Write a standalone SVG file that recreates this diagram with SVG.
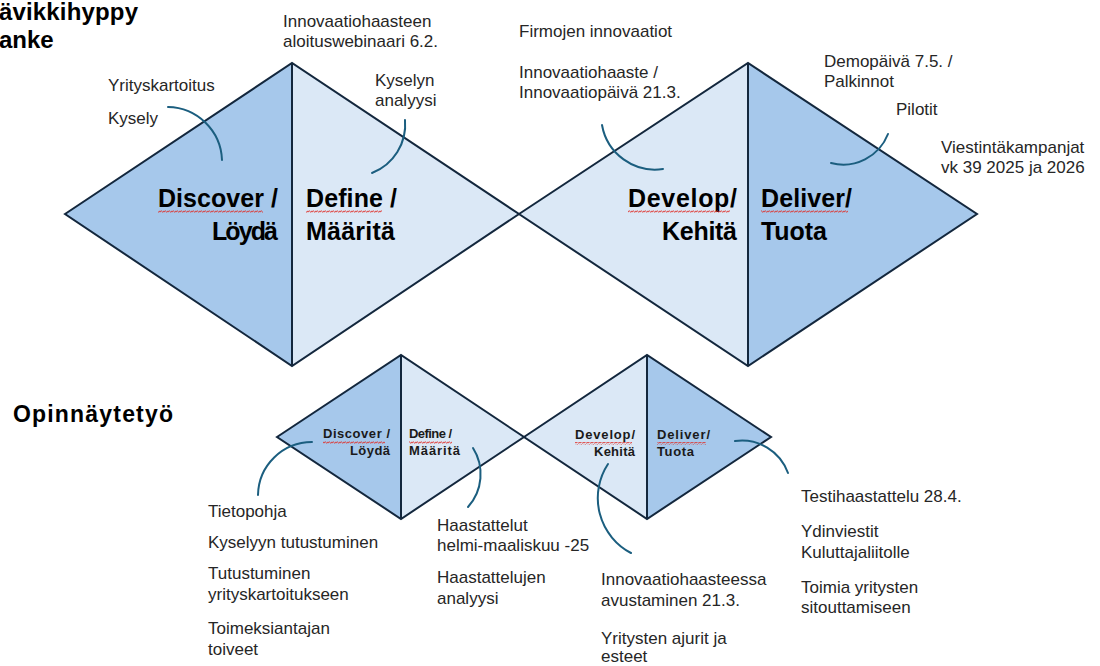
<svg xmlns="http://www.w3.org/2000/svg" width="1100" height="666" viewBox="0 0 1100 666">
<defs>
<style>
.dk{fill:#A6C8EB}
.lt{fill:#DBE8F6}
.ol{fill:none;stroke:#13273D;stroke-width:2;stroke-linejoin:miter}
.arc{fill:none;stroke:#1B5E7F;stroke-width:2;stroke-linecap:round}
.t{font-family:"Liberation Sans",Arial,sans-serif;font-size:17px;fill:#262626}
.b{font-family:"Liberation Sans",Arial,sans-serif;font-weight:bold;fill:#000}
.bl{font-size:25px}
.bs{font-size:13px;fill:#1a1a1a}
.sq{fill:url(#squig)}
</style>
<pattern id="squig" x="0" y="0" width="4" height="3" patternUnits="userSpaceOnUse">
<path d="M0,2.4 L1,0.6 L3,2.4 L4,0.6" fill="none" stroke="#E0302A" stroke-width="0.8"/>
</pattern>
</defs>
<rect width="1100" height="666" fill="#fff"/>

<g id="title">
<text class="b" x="-1" y="20" font-size="24" textLength="139">ävikkihyppy</text>
<text class="b" x="-1" y="48" font-size="24">anke</text>
</g>
<g id="title2">
<text class="b" x="13" y="422" font-size="23" textLength="160">Opinnäytetyö</text>
</g>

<g id="big-diamond-1">
<polygon class="dk" points="65,214 292,63 292,366"/>
<polygon class="lt" points="292,63 519,214 292,366"/>
<polygon class="ol" points="65,214 292,63 519,214 292,366"/>
<line class="ol" x1="292" y1="63" x2="292" y2="366"/>
<text class="b bl" x="278" y="207" text-anchor="end" textLength="120">Discover /</text>
<text class="b bl" x="278" y="240" text-anchor="end" textLength="66">Löydä</text>
<text class="b bl" x="306" y="207" textLength="91">Define /</text>
<text class="b bl" x="306" y="240" textLength="89">Määritä</text>
<rect class="sq" x="158" y="210" width="105" height="3"/>
<rect class="sq" x="306" y="210" width="76" height="3"/>
</g>

<g id="big-diamond-2">
<polygon class="lt" points="519,214 748,63 748,366"/>
<polygon class="dk" points="748,63 977,214 748,366"/>
<polygon class="ol" points="519,214 748,63 977,214 748,366"/>
<line class="ol" x1="748" y1="63" x2="748" y2="366"/>
<text class="b bl" x="737" y="207" text-anchor="end" textLength="109">Develop/</text>
<text class="b bl" x="737" y="240" text-anchor="end" textLength="75">Kehitä</text>
<text class="b bl" x="761" y="207" textLength="91">Deliver/</text>
<text class="b bl" x="761" y="240" textLength="66">Tuota</text>
<rect class="sq" x="628" y="210" width="102" height="3"/>
<rect class="sq" x="761" y="210" width="87" height="3"/>
</g>

<g id="small-diamond-1">
<polygon class="dk" points="277,437 401,355 401,519"/>
<polygon class="lt" points="401,355 524,437 401,519"/>
<polygon class="ol" points="277,437 401,355 524,437 401,519"/>
<line class="ol" x1="401" y1="355" x2="401" y2="519"/>
<text class="b bs" x="390" y="438" text-anchor="end" textLength="67">Discover /</text>
<text class="b bs" x="390" y="455" text-anchor="end" textLength="40">Löydä</text>
<text class="b bs" x="409" y="438" textLength="43">Define /</text>
<text class="b bs" x="409" y="455" textLength="51">Määritä</text>
<rect class="sq" x="323" y="441" width="62" height="3"/>
<rect class="sq" x="409" y="441" width="43" height="3"/>
</g>

<g id="small-diamond-2">
<polygon class="lt" points="524,437 647,355 647,519"/>
<polygon class="dk" points="647,355 771,437 647,519"/>
<polygon class="ol" points="524,437 647,355 771,437 647,519"/>
<line class="ol" x1="647" y1="355" x2="647" y2="519"/>
<text class="b bs" x="635" y="439" text-anchor="end" textLength="60">Develop/</text>
<text class="b bs" x="635" y="456" text-anchor="end" textLength="41">Kehitä</text>
<text class="b bs" x="657" y="439" textLength="53">Deliver/</text>
<text class="b bs" x="657" y="456" textLength="37">Tuota</text>
<rect class="sq" x="575" y="442" width="57" height="3"/>
<rect class="sq" x="657" y="442" width="49" height="3"/>
</g>

<g id="connectors">
<path class="arc" d="M168,107 A55,55 0 0 1 222,160"/>
<path class="arc" d="M405,120 A52,52 0 0 1 372,173"/>
<path class="arc" d="M602,125 A54,54 0 0 0 663,169"/>
<path class="arc" d="M888,134 A48,48 0 0 1 831,163"/>
<path class="arc" d="M312,442 A54,54 0 0 0 258,495"/>
<path class="arc" d="M473,448 A49,49 0 0 1 468,507"/>
<path class="arc" d="M608,464 A62,62 0 0 0 631,553"/>
<path class="arc" d="M735,441 A49,49 0 0 1 788,473"/>
</g>

<g id="notes-top">
<text class="t" x="108" y="91">Yrityskartoitus</text>
<text class="t" x="108" y="124">Kysely</text>
<text class="t" x="283" y="27">Innovaatiohaasteen</text>
<text class="t" x="283" y="47">aloituswebinaari 6.2.</text>
<text class="t" x="375" y="86">Kyselyn</text>
<text class="t" x="375" y="106">analyysi</text>
<text class="t" x="519" y="37">Firmojen innovaatiot</text>
<text class="t" x="519" y="78">Innovaatiohaaste /</text>
<text class="t" x="519" y="98">Innovaatiopäivä 21.3.</text>
<text class="t" x="824" y="67">Demopäivä 7.5. /</text>
<text class="t" x="824" y="87">Palkinnot</text>
<text class="t" x="896" y="115">Pilotit</text>
<text class="t" x="941" y="153">Viestintäkampanjat</text>
<text class="t" x="941" y="173">vk 39 2025 ja 2026</text>
</g>

<g id="notes-bottom">
<text class="t" x="208" y="517">Tietopohja</text>
<text class="t" x="208" y="548">Kyselyyn tutustuminen</text>
<text class="t" x="208" y="579">Tutustuminen</text>
<text class="t" x="208" y="600">yrityskartoitukseen</text>
<text class="t" x="208" y="634">Toimeksiantajan</text>
<text class="t" x="208" y="655">toiveet</text>
<text class="t" x="437" y="531">Haastattelut</text>
<text class="t" x="437" y="551">helmi-maaliskuu -25</text>
<text class="t" x="437" y="583">Haastattelujen</text>
<text class="t" x="437" y="604">analyysi</text>
<text class="t" x="601" y="585">Innovaatiohaasteessa</text>
<text class="t" x="601" y="606">avustaminen 21.3.</text>
<text class="t" x="601" y="644">Yritysten ajurit ja</text>
<text class="t" x="601" y="662">esteet</text>
<text class="t" x="801" y="502">Testihaastattelu 28.4.</text>
<text class="t" x="801" y="537">Ydinviestit</text>
<text class="t" x="801" y="558">Kuluttajaliitolle</text>
<text class="t" x="801" y="593">Toimia yritysten</text>
<text class="t" x="801" y="613">sitouttamiseen</text>
</g>
</svg>
